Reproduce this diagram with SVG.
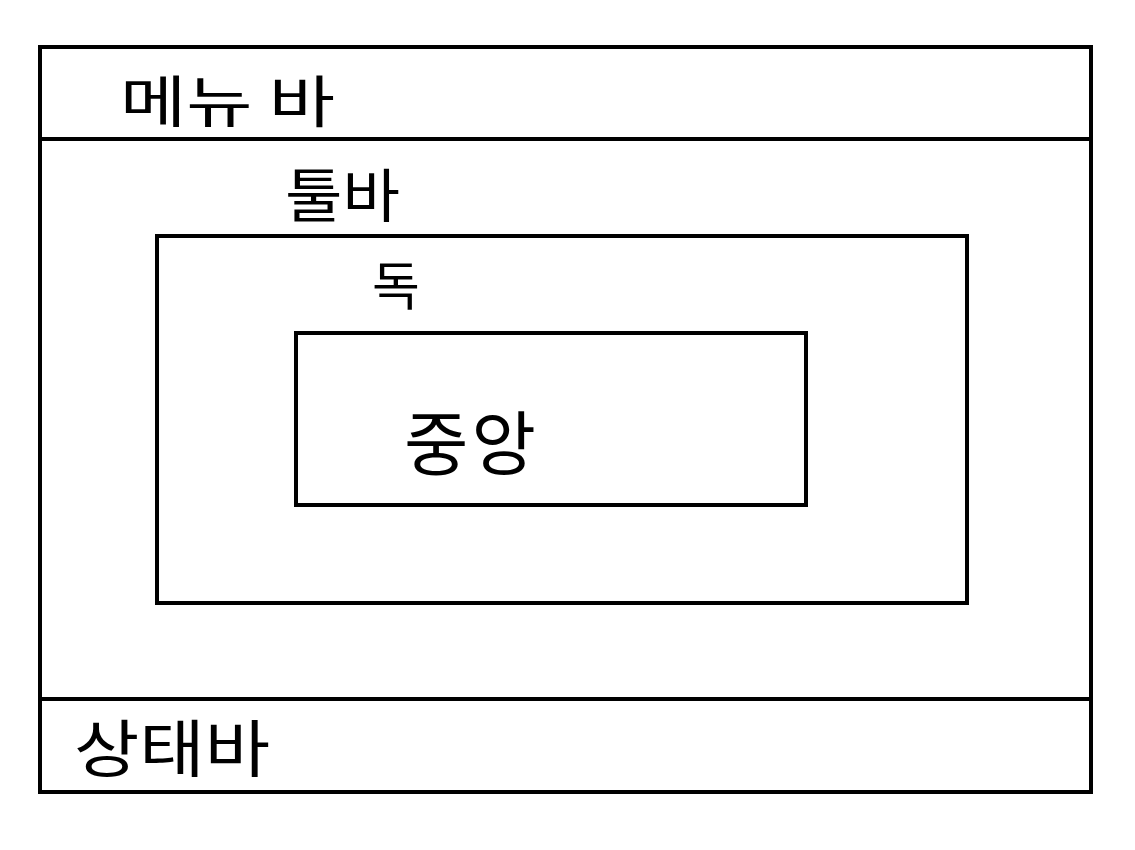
<svg xmlns="http://www.w3.org/2000/svg" width="1135" height="850" viewBox="0 0 1135 850">
<style>
.box{fill:none;stroke:#000;stroke-width:4}
.ln{stroke:#000;stroke-width:4}
.t{font-family:"Noto Sans CJK KR","Noto Sans",sans-serif;fill:#000;font-weight:400}
</style>
<rect width="1135" height="850" fill="#fff"/>
<g id="window">
<rect class="box" x="40" y="47" width="1051" height="745"/>
</g>
<g id="menubar">
<line class="ln" x1="40" y1="139" x2="1091" y2="139"/>
<text class="t" x="120" y="122" font-size="56" textLength="215" lengthAdjust="spacingAndGlyphs">메뉴 바</text>
</g>
<g id="toolbar">
<text class="t" x="285" y="217" font-size="58" textLength="115" lengthAdjust="spacingAndGlyphs">툴바</text>
</g>
<g id="dock">
<rect class="box" x="157" y="236" width="810" height="367"/>
<text class="t" x="372" y="305" font-size="52">독</text>
</g>
<g id="center">
<rect class="box" x="296" y="333" width="510" height="172"/>
<text class="t" x="404" y="470" font-size="70" textLength="132" lengthAdjust="spacing">중앙</text>
</g>
<g id="statusbar">
<line class="ln" x1="40" y1="699" x2="1091" y2="699"/>
<text class="t" x="74" y="772" font-size="62" textLength="196" lengthAdjust="spacingAndGlyphs">상태바</text>
</g>
<g id="connectors"></g>
</svg>
